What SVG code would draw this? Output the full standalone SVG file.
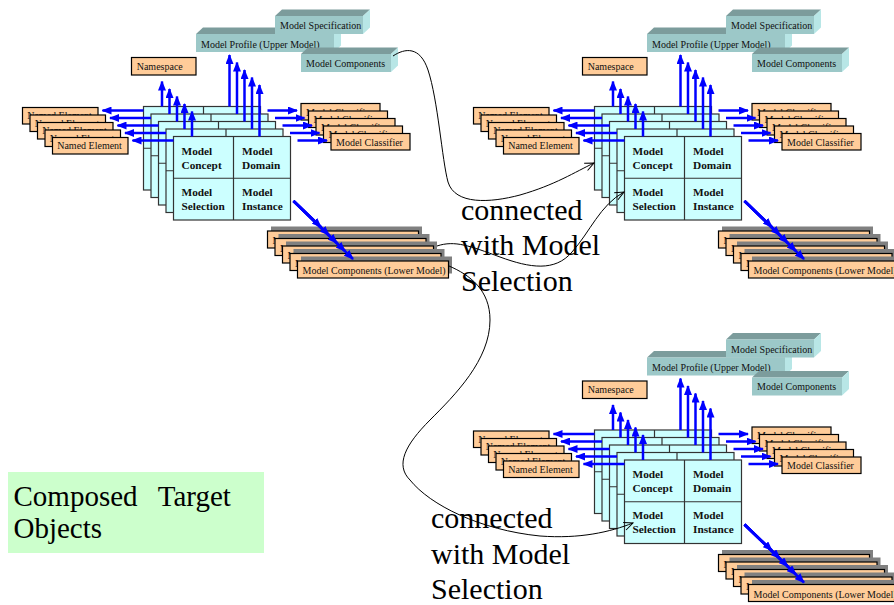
<svg xmlns="http://www.w3.org/2000/svg" width="894" height="605" viewBox="0 0 894 605">
<style>
.card{fill:#CCFFFF;stroke:#333;stroke-width:1.2}
.dv{fill:none;stroke:#333;stroke-width:1.2}
.ob{fill:#FFCC99;stroke:#000;stroke-width:1.2}
.sh{fill:#808080}
.tf{fill:#9CC8C8}.tt{fill:#7C9C9C}.ts{fill:#B8E6E6}
.t{font-family:"Liberation Serif","Times New Roman",serif;font-size:10px;fill:#111}
.tb{font-family:"Liberation Serif","Times New Roman",serif;font-size:11.3px;font-weight:bold;fill:#111}
.ba{stroke:#0000FF;stroke-width:2.5;fill:none;marker-end:url(#ah)}
.cv{stroke:#000;stroke-width:1;fill:none;marker-end:url(#oh)}
.big{font-family:"Liberation Serif","Times New Roman",serif;font-size:30px;fill:#000}
.gr{font-family:"Liberation Serif","Times New Roman",serif;font-size:29px;fill:#000}
</style>
<defs>
<marker id="ah" markerUnits="userSpaceOnUse" markerWidth="10" markerHeight="8" refX="9" refY="4" orient="auto"><path d="M0,0 L10,4 L0,8 z" fill="#0000FF"/></marker>
<marker id="oh" markerUnits="userSpaceOnUse" markerWidth="12" markerHeight="10" refX="9" refY="4" orient="auto" overflow="visible"><path d="M0,0 L9,4 L0,8" fill="none" stroke="#000" stroke-width="1"/></marker>
</defs>
<rect width="894" height="605" fill="#fff"/>

<!-- Cluster 1 -->
<g id="c1">
<g id="c1-named-element">
<rect class="ob" x="22.5" y="107.5" width="75.5" height="16.5"/><text class="t" x="27.2" y="119.3">Named Element</text>
<rect class="ob" x="30" y="115" width="75.5" height="16.5"/><text class="t" x="34.7" y="126.8">Named Element</text>
<rect class="ob" x="37.5" y="122.5" width="75.5" height="16.5"/><text class="t" x="42.2" y="134.3">Named Element</text>
<rect class="ob" x="45" y="130" width="75.5" height="16.5"/><text class="t" x="49.7" y="141.8">Named Element</text>
<rect class="ob" x="52.5" y="137.5" width="75.5" height="16.5"/><text class="t" x="57.2" y="149.3">Named Element</text>
</g>
<g id="c1-model-classifier">
<rect class="ob" x="301" y="103.5" width="79" height="16.5"/><text class="t" x="306" y="115.5">Model Classifier</text>
<rect class="ob" x="308.5" y="111" width="79" height="16.5"/><text class="t" x="313.5" y="123">Model Classifier</text>
<rect class="ob" x="316" y="118.5" width="79" height="16.5"/><text class="t" x="321" y="130.5">Model Classifier</text>
<rect class="ob" x="323.5" y="126" width="79" height="16.5"/><text class="t" x="328.5" y="138">Model Classifier</text>
<rect class="ob" x="331" y="133.5" width="79" height="16.5"/><text class="t" x="336" y="145.5">Model Classifier</text>
</g>
<g id="c1-lower-model">
<rect class="sh" x="271" y="226.5" width="151" height="17"/><rect class="ob" x="267.5" y="231" width="151" height="17"/><text class="t" x="272.5" y="244">Model Components (Lower Model)</text>
<rect class="sh" x="278.5" y="234" width="151" height="17"/><rect class="ob" x="275" y="238.5" width="151" height="17"/><text class="t" x="280" y="251.5">Model Components (Lower Model)</text>
<rect class="sh" x="286" y="241.5" width="151" height="17"/><rect class="ob" x="282.5" y="246" width="151" height="17"/><text class="t" x="287.5" y="259">Model Components (Lower Model)</text>
<rect class="sh" x="293.5" y="249" width="151" height="17"/><rect class="ob" x="290" y="253.5" width="151" height="17"/><text class="t" x="295" y="266.5">Model Components (Lower Model)</text>
<rect class="sh" x="301" y="256.5" width="151" height="17"/><rect class="ob" x="297.5" y="261" width="151" height="17"/><text class="t" x="302.5" y="274">Model Components (Lower Model)</text>
</g>
<g id="c1-namespace"><rect class="ob" x="131.5" y="57.5" width="64.5" height="17.5"/><text class="t" x="136.7" y="69.5">Namespace</text></g>
<g id="c1-model-profile"><path class="tt" d="M196,34 L203,27.5 L341,27.5 L334,34 z"/><path class="ts" d="M334,34 L341,27.5 L341,45.5 L334,52 z"/><rect class="tf" x="196" y="34" width="138" height="18"/><text class="t" x="201" y="47.5">Model Profile (Upper Model)</text></g>
<g id="c1-model-specification"><path class="tt" d="M275,16 L282,9.5 L370,9.5 L363,16 z"/><path class="ts" d="M363,16 L370,9.5 L370,27.5 L363,34 z"/><rect class="tf" x="275" y="16" width="88" height="18"/><text class="t" x="280" y="29">Model Specification</text></g>
<g id="c1-model-components"><path class="tt" d="M301,54 L308,47.5 L398,47.5 L391,54 z"/><path class="ts" d="M391,54 L398,47.5 L398,65.5 L391,72 z"/><rect class="tf" x="301" y="54" width="90" height="18"/><text class="t" x="306" y="66.5">Model Components</text></g>
<g id="c1-model-cards">
<rect class="card" x="143.5" y="106.5" width="117" height="83.5"/><path class="dv" d="M203.5,106.5 V190 M143.5,148.25 H260.5"/>
<rect class="card" x="151" y="114" width="117" height="83.5"/><path class="dv" d="M211,114 V197.5 M151,155.75 H268"/>
<rect class="card" x="158.5" y="121.5" width="117" height="83.5"/><path class="dv" d="M218.5,121.5 V205 M158.5,163.25 H275.5"/>
<rect class="card" x="166" y="129" width="117" height="83.5"/><path class="dv" d="M226,129 V212.5 M166,170.75 H283"/>
<rect class="card" x="173.5" y="136.5" width="117" height="83.5"/><path class="dv" d="M233.5,136.5 V220 M173.5,178.25 H290.5"/>
<text class="tb" x="181.5" y="154.5">Model</text><text class="tb" x="181.5" y="168.5">Concept</text>
<text class="tb" x="242" y="154.5">Model</text><text class="tb" x="242" y="168.5">Domain</text>
<text class="tb" x="181.5" y="195.5">Model</text><text class="tb" x="181.5" y="209.5">Selection</text>
<text class="tb" x="242" y="195.5">Model</text><text class="tb" x="242" y="209.5">Instance</text>
</g>
<g id="c1-arrows">
<path class="ba" d="M143.5,110.5 H102.5"/><path class="ba" d="M151,118 H110"/><path class="ba" d="M158.5,125.5 H117.5"/><path class="ba" d="M166,133 H125"/><path class="ba" d="M173.5,140.5 H132.5"/>
<path class="ba" d="M162,106.5 V81.5"/><path class="ba" d="M169.5,114 V89"/><path class="ba" d="M177,121.5 V96.5"/><path class="ba" d="M184.5,129 V104"/><path class="ba" d="M192,136.5 V111.5"/>
<path class="ba" d="M229.5,106.5 V55"/><path class="ba" d="M237,114 V62.5"/><path class="ba" d="M244.5,121.5 V70"/><path class="ba" d="M252,129 V77.5"/><path class="ba" d="M259.5,136.5 V85"/>
<path class="ba" d="M267.5,110.5 H297"/><path class="ba" d="M275,118 H304.5"/><path class="ba" d="M282.5,125.5 H312"/><path class="ba" d="M290,133 H319.5"/><path class="ba" d="M297.5,140.5 H327"/>
<path class="ba" d="M293.5,201 L321,227"/><path class="ba" d="M293.5,201 L329,235"/><path class="ba" d="M293.5,201 L337,243"/><path class="ba" d="M293.5,201 L345,251"/><path class="ba" d="M293.5,201 L353,259"/>
</g>
</g>

<!-- Cluster 2 -->
<g id="c2" transform="translate(451,0)">
<g id="c2-named-element">
<rect class="ob" x="22.5" y="107.5" width="75.5" height="16.5"/><text class="t" x="27.2" y="119.3">Named Element</text>
<rect class="ob" x="30" y="115" width="75.5" height="16.5"/><text class="t" x="34.7" y="126.8">Named Element</text>
<rect class="ob" x="37.5" y="122.5" width="75.5" height="16.5"/><text class="t" x="42.2" y="134.3">Named Element</text>
<rect class="ob" x="45" y="130" width="75.5" height="16.5"/><text class="t" x="49.7" y="141.8">Named Element</text>
<rect class="ob" x="52.5" y="137.5" width="75.5" height="16.5"/><text class="t" x="57.2" y="149.3">Named Element</text>
</g>
<g id="c2-model-classifier">
<rect class="ob" x="301" y="103.5" width="79" height="16.5"/><text class="t" x="306" y="115.5">Model Classifier</text>
<rect class="ob" x="308.5" y="111" width="79" height="16.5"/><text class="t" x="313.5" y="123">Model Classifier</text>
<rect class="ob" x="316" y="118.5" width="79" height="16.5"/><text class="t" x="321" y="130.5">Model Classifier</text>
<rect class="ob" x="323.5" y="126" width="79" height="16.5"/><text class="t" x="328.5" y="138">Model Classifier</text>
<rect class="ob" x="331" y="133.5" width="79" height="16.5"/><text class="t" x="336" y="145.5">Model Classifier</text>
</g>
<g id="c2-lower-model">
<rect class="sh" x="271" y="226.5" width="151" height="17"/><rect class="ob" x="267.5" y="231" width="151" height="17"/><text class="t" x="272.5" y="244">Model Components (Lower Model)</text>
<rect class="sh" x="278.5" y="234" width="151" height="17"/><rect class="ob" x="275" y="238.5" width="151" height="17"/><text class="t" x="280" y="251.5">Model Components (Lower Model)</text>
<rect class="sh" x="286" y="241.5" width="151" height="17"/><rect class="ob" x="282.5" y="246" width="151" height="17"/><text class="t" x="287.5" y="259">Model Components (Lower Model)</text>
<rect class="sh" x="293.5" y="249" width="151" height="17"/><rect class="ob" x="290" y="253.5" width="151" height="17"/><text class="t" x="295" y="266.5">Model Components (Lower Model)</text>
<rect class="sh" x="301" y="256.5" width="151" height="17"/><rect class="ob" x="297.5" y="261" width="151" height="17"/><text class="t" x="302.5" y="274">Model Components (Lower Model)</text>
</g>
<g id="c2-namespace"><rect class="ob" x="131.5" y="57.5" width="64.5" height="17.5"/><text class="t" x="136.7" y="69.5">Namespace</text></g>
<g id="c2-model-profile"><path class="tt" d="M196,34 L203,27.5 L341,27.5 L334,34 z"/><path class="ts" d="M334,34 L341,27.5 L341,45.5 L334,52 z"/><rect class="tf" x="196" y="34" width="138" height="18"/><text class="t" x="201" y="47.5">Model Profile (Upper Model)</text></g>
<g id="c2-model-specification"><path class="tt" d="M275,16 L282,9.5 L370,9.5 L363,16 z"/><path class="ts" d="M363,16 L370,9.5 L370,27.5 L363,34 z"/><rect class="tf" x="275" y="16" width="88" height="18"/><text class="t" x="280" y="29">Model Specification</text></g>
<g id="c2-model-components"><path class="tt" d="M301,54 L308,47.5 L398,47.5 L391,54 z"/><path class="ts" d="M391,54 L398,47.5 L398,65.5 L391,72 z"/><rect class="tf" x="301" y="54" width="90" height="18"/><text class="t" x="306" y="66.5">Model Components</text></g>
<g id="c2-model-cards">
<rect class="card" x="143.5" y="106.5" width="117" height="83.5"/><path class="dv" d="M203.5,106.5 V190 M143.5,148.25 H260.5"/>
<rect class="card" x="151" y="114" width="117" height="83.5"/><path class="dv" d="M211,114 V197.5 M151,155.75 H268"/>
<rect class="card" x="158.5" y="121.5" width="117" height="83.5"/><path class="dv" d="M218.5,121.5 V205 M158.5,163.25 H275.5"/>
<rect class="card" x="166" y="129" width="117" height="83.5"/><path class="dv" d="M226,129 V212.5 M166,170.75 H283"/>
<rect class="card" x="173.5" y="136.5" width="117" height="83.5"/><path class="dv" d="M233.5,136.5 V220 M173.5,178.25 H290.5"/>
<text class="tb" x="181.5" y="154.5">Model</text><text class="tb" x="181.5" y="168.5">Concept</text>
<text class="tb" x="242" y="154.5">Model</text><text class="tb" x="242" y="168.5">Domain</text>
<text class="tb" x="181.5" y="195.5">Model</text><text class="tb" x="181.5" y="209.5">Selection</text>
<text class="tb" x="242" y="195.5">Model</text><text class="tb" x="242" y="209.5">Instance</text>
</g>
<g id="c2-arrows">
<path class="ba" d="M143.5,110.5 H102.5"/><path class="ba" d="M151,118 H110"/><path class="ba" d="M158.5,125.5 H117.5"/><path class="ba" d="M166,133 H125"/><path class="ba" d="M173.5,140.5 H132.5"/>
<path class="ba" d="M162,106.5 V81.5"/><path class="ba" d="M169.5,114 V89"/><path class="ba" d="M177,121.5 V96.5"/><path class="ba" d="M184.5,129 V104"/><path class="ba" d="M192,136.5 V111.5"/>
<path class="ba" d="M229.5,106.5 V55"/><path class="ba" d="M237,114 V62.5"/><path class="ba" d="M244.5,121.5 V70"/><path class="ba" d="M252,129 V77.5"/><path class="ba" d="M259.5,136.5 V85"/>
<path class="ba" d="M267.5,110.5 H297"/><path class="ba" d="M275,118 H304.5"/><path class="ba" d="M282.5,125.5 H312"/><path class="ba" d="M290,133 H319.5"/><path class="ba" d="M297.5,140.5 H327"/>
<path class="ba" d="M293.5,201 L321,227"/><path class="ba" d="M293.5,201 L329,235"/><path class="ba" d="M293.5,201 L337,243"/><path class="ba" d="M293.5,201 L345,251"/><path class="ba" d="M293.5,201 L353,259"/>
</g>
</g>

<!-- Cluster 3 -->
<g id="c3" transform="translate(451,323.5)">
<g id="c3-named-element">
<rect class="ob" x="22.5" y="107.5" width="75.5" height="16.5"/><text class="t" x="27.2" y="119.3">Named Element</text>
<rect class="ob" x="30" y="115" width="75.5" height="16.5"/><text class="t" x="34.7" y="126.8">Named Element</text>
<rect class="ob" x="37.5" y="122.5" width="75.5" height="16.5"/><text class="t" x="42.2" y="134.3">Named Element</text>
<rect class="ob" x="45" y="130" width="75.5" height="16.5"/><text class="t" x="49.7" y="141.8">Named Element</text>
<rect class="ob" x="52.5" y="137.5" width="75.5" height="16.5"/><text class="t" x="57.2" y="149.3">Named Element</text>
</g>
<g id="c3-model-classifier">
<rect class="ob" x="301" y="103.5" width="79" height="16.5"/><text class="t" x="306" y="115.5">Model Classifier</text>
<rect class="ob" x="308.5" y="111" width="79" height="16.5"/><text class="t" x="313.5" y="123">Model Classifier</text>
<rect class="ob" x="316" y="118.5" width="79" height="16.5"/><text class="t" x="321" y="130.5">Model Classifier</text>
<rect class="ob" x="323.5" y="126" width="79" height="16.5"/><text class="t" x="328.5" y="138">Model Classifier</text>
<rect class="ob" x="331" y="133.5" width="79" height="16.5"/><text class="t" x="336" y="145.5">Model Classifier</text>
</g>
<g id="c3-lower-model">
<rect class="sh" x="271" y="226.5" width="151" height="17"/><rect class="ob" x="267.5" y="231" width="151" height="17"/><text class="t" x="272.5" y="244">Model Components (Lower Model)</text>
<rect class="sh" x="278.5" y="234" width="151" height="17"/><rect class="ob" x="275" y="238.5" width="151" height="17"/><text class="t" x="280" y="251.5">Model Components (Lower Model)</text>
<rect class="sh" x="286" y="241.5" width="151" height="17"/><rect class="ob" x="282.5" y="246" width="151" height="17"/><text class="t" x="287.5" y="259">Model Components (Lower Model)</text>
<rect class="sh" x="293.5" y="249" width="151" height="17"/><rect class="ob" x="290" y="253.5" width="151" height="17"/><text class="t" x="295" y="266.5">Model Components (Lower Model)</text>
<rect class="sh" x="301" y="256.5" width="151" height="17"/><rect class="ob" x="297.5" y="261" width="151" height="17"/><text class="t" x="302.5" y="274">Model Components (Lower Model)</text>
</g>
<g id="c3-namespace"><rect class="ob" x="131.5" y="57.5" width="64.5" height="17.5"/><text class="t" x="136.7" y="69.5">Namespace</text></g>
<g id="c3-model-profile"><path class="tt" d="M196,34 L203,27.5 L341,27.5 L334,34 z"/><path class="ts" d="M334,34 L341,27.5 L341,45.5 L334,52 z"/><rect class="tf" x="196" y="34" width="138" height="18"/><text class="t" x="201" y="47.5">Model Profile (Upper Model)</text></g>
<g id="c3-model-specification"><path class="tt" d="M275,16 L282,9.5 L370,9.5 L363,16 z"/><path class="ts" d="M363,16 L370,9.5 L370,27.5 L363,34 z"/><rect class="tf" x="275" y="16" width="88" height="18"/><text class="t" x="280" y="29">Model Specification</text></g>
<g id="c3-model-components"><path class="tt" d="M301,54 L308,47.5 L398,47.5 L391,54 z"/><path class="ts" d="M391,54 L398,47.5 L398,65.5 L391,72 z"/><rect class="tf" x="301" y="54" width="90" height="18"/><text class="t" x="306" y="66.5">Model Components</text></g>
<g id="c3-model-cards">
<rect class="card" x="143.5" y="106.5" width="117" height="83.5"/><path class="dv" d="M203.5,106.5 V190 M143.5,148.25 H260.5"/>
<rect class="card" x="151" y="114" width="117" height="83.5"/><path class="dv" d="M211,114 V197.5 M151,155.75 H268"/>
<rect class="card" x="158.5" y="121.5" width="117" height="83.5"/><path class="dv" d="M218.5,121.5 V205 M158.5,163.25 H275.5"/>
<rect class="card" x="166" y="129" width="117" height="83.5"/><path class="dv" d="M226,129 V212.5 M166,170.75 H283"/>
<rect class="card" x="173.5" y="136.5" width="117" height="83.5"/><path class="dv" d="M233.5,136.5 V220 M173.5,178.25 H290.5"/>
<text class="tb" x="181.5" y="154.5">Model</text><text class="tb" x="181.5" y="168.5">Concept</text>
<text class="tb" x="242" y="154.5">Model</text><text class="tb" x="242" y="168.5">Domain</text>
<text class="tb" x="181.5" y="195.5">Model</text><text class="tb" x="181.5" y="209.5">Selection</text>
<text class="tb" x="242" y="195.5">Model</text><text class="tb" x="242" y="209.5">Instance</text>
</g>
<g id="c3-arrows">
<path class="ba" d="M143.5,110.5 H102.5"/><path class="ba" d="M151,118 H110"/><path class="ba" d="M158.5,125.5 H117.5"/><path class="ba" d="M166,133 H125"/><path class="ba" d="M173.5,140.5 H132.5"/>
<path class="ba" d="M162,106.5 V81.5"/><path class="ba" d="M169.5,114 V89"/><path class="ba" d="M177,121.5 V96.5"/><path class="ba" d="M184.5,129 V104"/><path class="ba" d="M192,136.5 V111.5"/>
<path class="ba" d="M229.5,106.5 V55"/><path class="ba" d="M237,114 V62.5"/><path class="ba" d="M244.5,121.5 V70"/><path class="ba" d="M252,129 V77.5"/><path class="ba" d="M259.5,136.5 V85"/>
<path class="ba" d="M267.5,110.5 H297"/><path class="ba" d="M275,118 H304.5"/><path class="ba" d="M282.5,125.5 H312"/><path class="ba" d="M290,133 H319.5"/><path class="ba" d="M297.5,140.5 H327"/>
<path class="ba" d="M293.5,201 L321,227"/><path class="ba" d="M293.5,201 L329,235"/><path class="ba" d="M293.5,201 L337,243"/><path class="ba" d="M293.5,201 L345,251"/><path class="ba" d="M293.5,201 L353,259"/>
</g>
</g>

<g id="label-1"><text class="big" x="461" y="219.5">connected</text><text class="big" x="461" y="255">with Model</text><text class="big" x="461" y="290.5">Selection</text></g>
<g id="label-2"><text class="big" x="431" y="527.5">connected</text><text class="big" x="431" y="563.5">with Model</text><text class="big" x="431" y="599.3">Selection</text></g>
<g id="composed-target-objects"><rect x="8" y="472" width="256" height="81" fill="#CCFFCC"/><text class="gr" y="505.5"><tspan x="13.5">Composed</tspan><tspan x="157.7">Target</tspan></text><text class="gr" x="13.5" y="538">Objects</text></g>

<g id="connectors">
<path class="cv" d="M393,56 C405,48 420,46 428,70 C438,100 442,160 448,182 C455,205 490,203 520,195 C555,185 575,172 594,163"/>
<path class="cv" d="M437,246 C455,240 470,246 500,257 C530,268 555,272 572,252 C590,232 600,205 624,192"/>
<path class="cv" d="M449,266 C470,275 490,290 490,320 C490,360 455,395 430,420 C405,445 395,465 410,480 C430,505 480,530 540,536 C580,539 610,532 633,523"/>
</g>
</svg>
